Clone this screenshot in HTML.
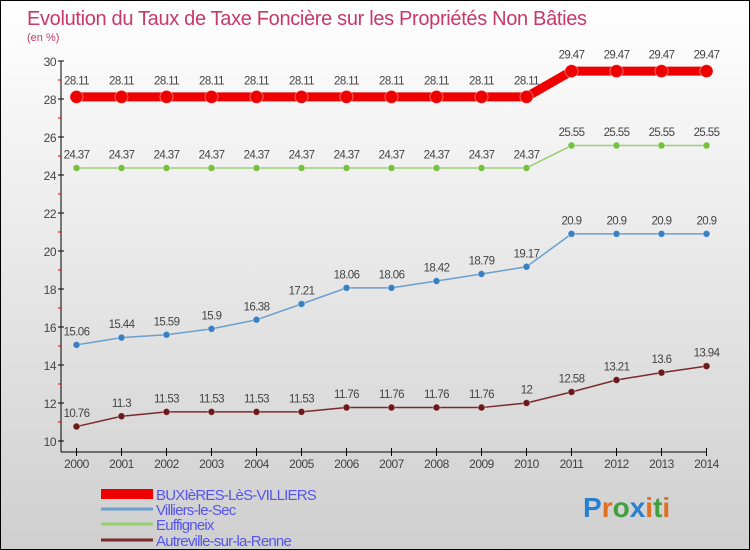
<!DOCTYPE html>
<html><head><meta charset="utf-8"><style>
html,body{margin:0;padding:0}
#c{width:750px;height:550px;position:relative;box-sizing:border-box;border:1px solid #000;background:linear-gradient(#ffffff,#cfcfcf);overflow:hidden;font-family:"Liberation Sans",sans-serif}
svg{position:absolute;left:0;top:0}
</style></head><body>
<div id="c">
<svg id="s" width="750" height="550">
<text x="26" y="24" font-size="20" fill="#c8386a" textLength="560">Evolution du Taux de Taxe Foncière sur les Propriétés Non Bâties</text>
<text x="26" y="40" font-size="11" fill="#c8386a">(en %)</text>
</svg>
</div>
<script>
const years=[2000,2001,2002,2003,2004,2005,2006,2007,2008,2009,2010,2011,2012,2013,2014];
const buxieres=[28.11,28.11,28.11,28.11,28.11,28.11,28.11,28.11,28.11,28.11,28.11,29.47,29.47,29.47,29.47];
const villiers=[15.06,15.44,15.59,15.9,16.38,17.21,18.06,18.06,18.42,18.79,19.17,20.9,20.9,20.9,20.9];
const euffigneix=[24.37,24.37,24.37,24.37,24.37,24.37,24.37,24.37,24.37,24.37,24.37,25.55,25.55,25.55,25.55];
const autreville=[10.76,11.3,11.53,11.53,11.53,11.53,11.76,11.76,11.76,11.76,12,12.58,13.21,13.6,13.94];
const yTicks=[10,12,14,16,18,20,22,24,26,28,30];
const names=["BUXIèRES-LèS-VILLIERS","Villiers-le-Sec","Euffigneix","Autreville-sur-la-Renne"];

const svg=document.getElementById('s');const NS='http://www.w3.org/2000/svg';
function X(i){return 75.5+i*(705.5-75.5)/(years.length-1);}
function Y(v){return 440-(v-10)*19;}
function el(t,a,p){const e=document.createElementNS(NS,t);for(const k in a)e.setAttribute(k,a[k]);(p||svg).appendChild(e);return e;}
let ya=el('line',{x1:60,y1:Y(30),x2:60,y2:451,stroke:'#000'});


let xa=el('line',{x1:60,y1:451,x2:706,y2:451,stroke:'#000'});


yTicks.forEach(v=>{
 el('line',{x1:57,y1:Y(v),x2:63,y2:Y(v),stroke:'#000'});
 if(v<30) el('line',{x1:57,y1:Y(v+1),x2:60,y2:Y(v+1),stroke:'#d00'});
 const t=el('text',{x:55,y:Y(v)+5,'font-size':12,fill:'#444','text-anchor':'end','letter-spacing':'-0.5'});
 t.textContent=v;
 
 
});
years.forEach((yr,i)=>{
 el('line',{x1:X(i),y1:447,x2:X(i),y2:455,stroke:'#000'});
 const t=el('text',{x:X(i),y:467,'font-size':12,fill:'#444','text-anchor':'middle','letter-spacing':'-0.5'});
 t.textContent=yr;
 
 
});
const series=[
 {d:autreville,c:'#7a2a2a',p:'#6a1a1a',w:1.5,r:3.5,n:'autreville'},
 {d:villiers,c:'#6a9fd0',p:'#3a80c0',w:1.5,r:3.5,n:'villiers'},
 {d:euffigneix,c:'#99d070',p:'#77c040',w:1.5,r:3.5,n:'euffigneix'},
 {d:buxieres,c:'#ee0000',p:'#ee0000',w:9,r:6.5,n:'buxieres'}
];
series.forEach(s=>{
 const pl=el('polyline',{points:s.d.map((v,i)=>X(i)+','+Y(v)).join(' '),fill:'none',stroke:s.c,'stroke-width':s.w});
 
 
 s.d.forEach((v,i)=>{
  const c=el('circle',{cx:X(i),cy:Y(v),r:s.r,fill:s.p,stroke:'#fff','stroke-opacity':0.4});
  
  
  const t=el('text',{x:X(i),y:Y(v)-(s.r+6),'font-size':11.5,fill:'#444','text-anchor':'middle','letter-spacing':'-0.6'});
  t.textContent=v;
  
  
 });
});
const lc=['#ee0000','#6a9fd0','#99d070','#7a2a2a'],lw=[10,3,3,3],ly=[493,508,523,539];
names.forEach((n,i)=>{
 const g=el('g',{});
 
 
 el('line',{x1:100,y1:ly[i],x2:152,y2:ly[i],stroke:lc[i],'stroke-width':lw[i]},g);
 const t=el('text',{x:155,y:ly[i]+6,'font-size':15,fill:'#5555ee','letter-spacing':'-0.8'},g);
 t.textContent=n;
});
const lg=el('text',{x:582,y:516,'font-size':28,'font-weight':'bold','font-family':'Liberation Sans, sans-serif'});


[['P','#2a80d0'],['r','#e07020'],['o','#40a040'],['x','#2a80d0'],['i','#e07020'],['t','#40a040'],['i','#e07020']].forEach(([ch,col])=>{const ts=el('tspan',{fill:col},lg);ts.textContent=ch;});
</script>
</body></html>
